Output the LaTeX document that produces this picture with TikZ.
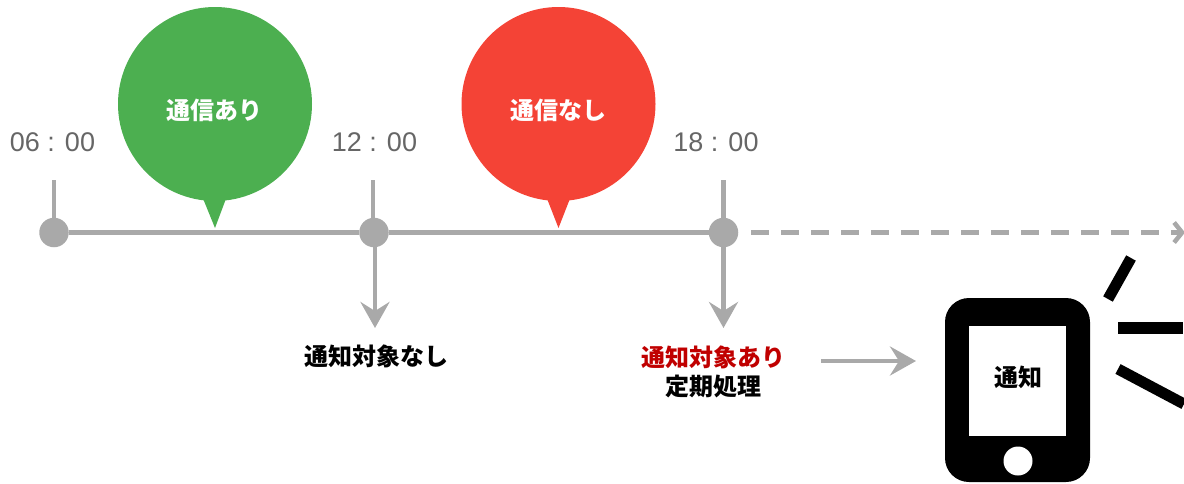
\documentclass[tikz,border=0pt]{standalone}
\usepackage{fontspec}
\setmainfont{Liberation Sans}
\newfontfamily\cjk{Noto Sans CJK JP}
\usetikzlibrary{arrows.meta}
\definecolor{gline}{HTML}{A9A9A9}
\definecolor{ggreen}{HTML}{4CAF50}
\definecolor{rred}{HTML}{F44336}
\definecolor{dred}{HTML}{C00000}
\definecolor{timec}{HTML}{666666}
\tikzset{x=1pt,y=-1pt,
 tline/.style={draw=gline,line width=4.5pt},
 dot/.style={circle,fill=gline,minimum size=29.5pt,inner sep=0pt},
 arr/.style={draw=gline,line width=4.5pt,-{Stealth[length=26pt,width=29pt,inset=9pt]}},
 timel/.style={font=\fontsize{27}{27}\selectfont,text=timec},
 bubble/.style={circle,minimum size=194pt,inner sep=0pt},
 btext/.style={font=\cjk\bfseries\fontsize{24}{24}\selectfont,text=white},
 ltext/.style={font=\cjk\bfseries\fontsize{24}{28}\selectfont,text=black},
}
\begin{document}
\begin{tikzpicture}
\useasboundingbox (0,0) rectangle (1184,483);
\node[timel] (t1) at (52.5,142) {06 : 00};
\node[timel] (t2) at (374.5,142) {12 : 00};
\node[timel] (t3) at (716,142) {18 : 00};
\node[dot] (d1) at (54,232.5) {};
\node[dot] (d2) at (374,232.5) {};
\node[dot] (d3) at (723.5,232.5) {};
\coordinate (s1) at (54,180);\coordinate (s2) at (373,180);\coordinate (s3) at (723.5,180);
\coordinate (j2) at (373,232.5);
\coordinate (f2) at (375,232.5);
\coordinate (h2) at (375,328);
\coordinate (h3) at (723.5,328);
\draw[tline] (s1) -- (d1.center);
\draw[tline] (s2) -- (j2);
\draw[tline] (s3) -- (d3.center);
\draw[tline] (d1) -- (d2);
\draw[tline] (d2) -- (d3);
\coordinate (ds) at (751,232.5);
\coordinate (e) at (1185,232.5);
\draw[draw=gline,line width=4.5pt,dash pattern=on 18pt off 12pt,-{Straight Barb[length=8pt,width=20pt,line width=4.5pt]}] (ds) -- (e);
\fill[ggreen] (202,196) -- (227,196) -- (215,228) -- cycle;
\fill[rred] (546,196) -- (571,196) -- (558.5,228) -- cycle;
\node[bubble,fill=ggreen] (b1) at (215,104) {};
\node[bubble,fill=rred] (b2) at (558.5,104) {};
\node[btext] (bt1) at (214,110) {通信あり};
\node[btext] (bt2) at (558,110) {通信なし};
\node[ltext] (l1) at (376,356) {通知対象なし};
\node[ltext,text=dred] (l2) at (713,357) {通知対象あり};
\node[ltext] (l3) at (713,386) {定期処理};
\draw[arr] (f2) -- (h2);
\draw[arr] (d3.center) -- (h3);
\coordinate (a1) at (821,361);\coordinate (a2) at (916,361);
\draw[arr] (a1) -- (a2);
\fill[black,rounded corners=24pt] (945,298) rectangle (1090,482);
\fill[white] (969,326) rectangle (1066,436);
\fill[white] (1018,461) circle (14.5);
\node[ltext] (n) at (1018,377) {通知};
\draw[line width=11pt] (1131,258) -- (1108,299);
\draw[line width=11.5pt] (1118,328) -- (1183,328);
\draw[line width=11pt] (1118,369) -- (1184,404);
\end{tikzpicture}
\end{document}
